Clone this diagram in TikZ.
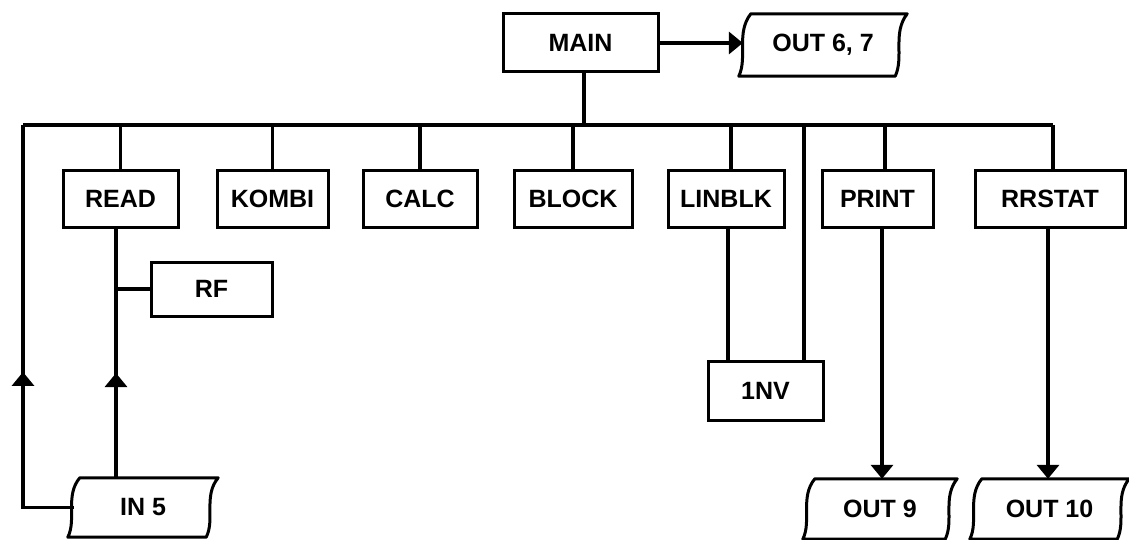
\documentclass[tikz,border=0pt]{standalone}
\usepackage{fontspec}
\setmainfont{Liberation Sans}
\usetikzlibrary{arrows.meta,decorations.markings,calc}
\newcommand{\tapeline}[1]{%
  \draw[boxline] ($(#1.north west)+(6pt,0pt)$) -- ($(#1.north east)+(6pt,0pt)$)
    .. controls ($(#1.east)+(-9pt,12pt)$) and ($(#1.east)+(3pt,-12pt)$) .. ($(#1.south east)+(-6pt,0pt)$)
    -- ($(#1.south west)+(-6pt,0pt)$)
    .. controls ($(#1.west)+(3pt,-12pt)$) and ($(#1.west)+(-9pt,12pt)$) .. cycle;}
\begin{document}
\begin{tikzpicture}[x=1pt,y=-1pt,
  lbl/.style={font=\fontsize{25}{25}\selectfont\bfseries},
  box/.style={lbl,draw,line width=3pt,inner sep=0pt,minimum height=56pt},
  tapebox/.style={lbl,inner sep=0pt},
  boxline/.style={line width=3pt,line join=round},
  conn/.style={line width=3.5pt,line join=miter},
  bus/.style={line width=4.5pt},
  tip/.style={-{Triangle[width=22pt,length=14pt]}},
  arrowat/.style={postaction={decorate},decoration={markings,mark=at position #1 with {\arrow{Triangle[width=22pt,length=14pt]}}}}
]
\useasboundingbox (0,0) rectangle (1129,540);

% top
\node[box,minimum width=155pt,minimum height=58pt] (MAIN) at (580.5,43) {MAIN};
\node[tapebox,minimum width=156pt,minimum height=62pt] (OUT67) at (823,45) {OUT 6, 7};
\tapeline{OUT67}

% row of modules
\node[box,minimum width=115pt] (READ)   at (120.5,199) {READ};
\node[box,minimum width=111pt] (KOMBI)  at (272.5,199) {KOMBI};
\node[box,minimum width=114pt] (CALC)   at (420,199)   {CALC};
\node[box,minimum width=118pt] (BLOCK)  at (573,199)   {BLOCK};
\node[box,minimum width=116pt] (LINBLK) at (726,199)   {LINBLK};
\node[box,minimum width=111pt] (PRINT)  at (877.5,199) {PRINT};
\node[box,minimum width=150pt] (RRSTAT) at (1050,199)  {RRSTAT};

% lower level
\node[box,minimum width=121pt,minimum height=54pt] (RF)  at (211.5,289) {RF};
\node[box,minimum width=115pt,minimum height=59pt] (INV) at (765.5,390.5) {1NV};

% files
\node[tapebox,minimum width=138pt,minimum height=59pt] (IN5)   at (143,507.5) {IN 5};
\node[tapebox,minimum width=142pt,minimum height=60pt] (OUT9)  at (880,509)   {OUT 9};
\node[tapebox,minimum width=147pt,minimum height=60pt] (OUT10) at (1049.5,509) {OUT 10};
\tapeline{IN5}
\tapeline{OUT9}
\tapeline{OUT10}

% bus
\coordinate (busL) at (23,125);
\coordinate (busR) at (1053,125);
\coordinate (jINV) at (804,125);
\draw[bus] (busL) -- (busR);

% connectors
\draw[conn,tip] (MAIN.east) -- ([xshift=-2pt]MAIN.east -| OUT67.west);
\draw[conn] ([xshift=3.5pt]MAIN.south) -- ([xshift=3.5pt]MAIN.south |- busL);
\draw[conn] (READ.north) -- (READ.north |- busL);
\draw[conn] (KOMBI.north) -- (KOMBI.north |- busL);
\draw[conn] (CALC.north) -- (CALC.north |- busL);
\draw[conn] (BLOCK.north) -- (BLOCK.north |- busL);
\draw[conn] ([xshift=5pt]LINBLK.north) -- ([xshift=5pt]LINBLK.north |- busL);
\draw[conn] ([xshift=7.5pt]PRINT.north) -- ([xshift=7.5pt]PRINT.north |- busL);
\draw[conn] ([xshift=3pt]RRSTAT.north) -- (busR);

\draw[conn] ([xshift=2pt]LINBLK.south) -- ([xshift=2pt]LINBLK.south |- INV.north);
\draw[conn] (jINV) -- (jINV |- INV.north);

\draw[conn,tip] ([xshift=4.5pt]PRINT.south) -- ([xshift=4.5pt]PRINT.south |- OUT9.north);
\draw[conn,tip] ([xshift=-2pt]RRSTAT.south) -- ([xshift=-2pt]RRSTAT.south |- OUT10.north);

\coordinate (rd) at ([xshift=-4.5pt]READ.south);
\draw[conn,arrowat=0.42] (rd |- IN5.north) -- (rd);
\draw[conn] (RF.west) -- (RF.west -| rd);
\draw[conn,arrowat=0.43] (IN5.west) -- (IN5.west -| busL) -- (busL);
\end{tikzpicture}
\end{document}
